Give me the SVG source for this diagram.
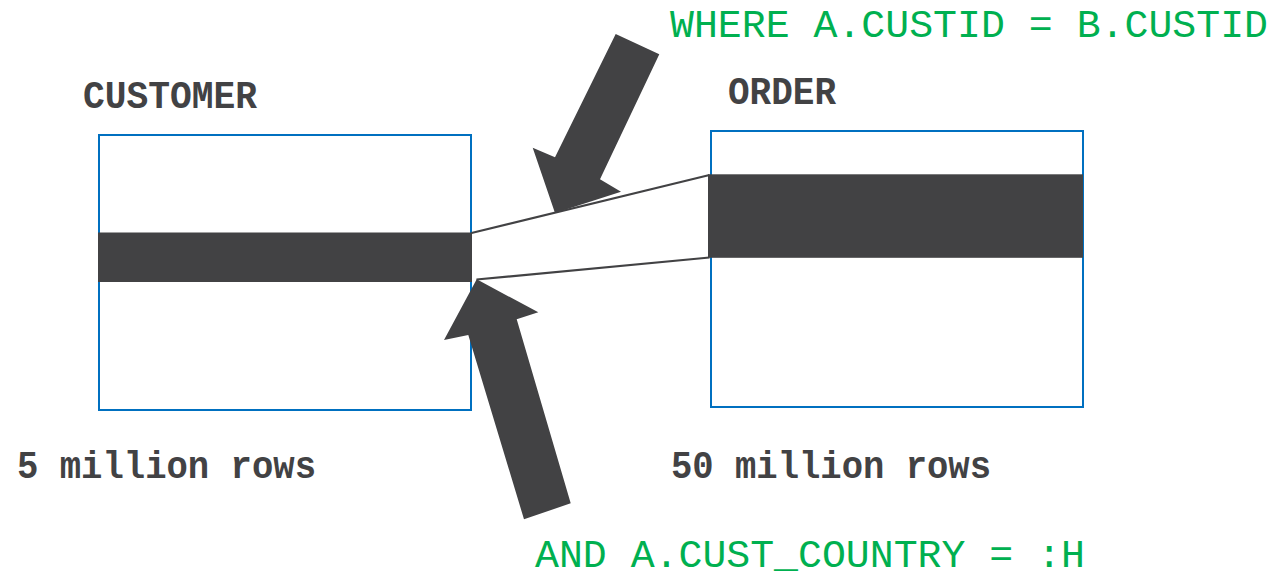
<svg xmlns="http://www.w3.org/2000/svg" width="1276" height="578" viewBox="0 0 1276 578">
<style>
.box{fill:#fff;stroke:#0070C0;stroke-width:2}
.bar{fill:#424244}
.arrow{fill:#424244}
.conn{stroke:#424244;stroke-width:2.2;fill:none}
.lbl{font-family:"Courier New","Liberation Mono",monospace;font-weight:bold;fill:#424244}
.sql{font-family:"Courier New","Liberation Mono",monospace;fill:#00B050}
</style>
<rect width="1276" height="578" fill="#fff"/>
<g id="customer">
<rect class="box" x="99" y="135" width="372" height="275"/>
<rect class="bar" x="98" y="232.5" width="374" height="49.5"/>
<text class="lbl" x="83" y="108" font-size="38" textLength="174" lengthAdjust="spacingAndGlyphs">CUSTOMER</text>
<text class="lbl" x="17" y="478" font-size="38" textLength="299" lengthAdjust="spacingAndGlyphs">5 million rows</text>
</g>
<g id="order">
<rect class="box" x="711" y="131" width="372" height="276"/>
<rect class="bar" x="708" y="174.3" width="375" height="83.5"/>
<text class="lbl" x="728" y="104" font-size="38" textLength="108" lengthAdjust="spacingAndGlyphs">ORDER</text>
<text class="lbl" x="671" y="478" font-size="38" textLength="320" lengthAdjust="spacingAndGlyphs">50 million rows</text>
</g>
<g id="connectors">
<line class="conn" x1="471.5" y1="233" x2="709.5" y2="175"/>
<line class="conn" x1="476.5" y1="279.5" x2="709.5" y2="257.5"/>
</g>
<g id="where-arrow">
<polygon class="arrow" points="615.7,34 659.3,54.3 600,179.3 621,191.7 555,213 532.7,147.7 555,157.3"/>
<text class="sql" x="670" y="37" font-size="38" textLength="598" lengthAdjust="spacingAndGlyphs">WHERE A.CUSTID = B.CUSTID</text>
</g>
<g id="and-arrow">
<polygon class="arrow" points="476.7,279.3 538.3,312.3 516.7,319.3 570.7,503.3 524,519.3 468.3,335 444,340"/>
<text class="sql" x="535" y="567" font-size="38" textLength="550" lengthAdjust="spacingAndGlyphs">AND A.CUST_COUNTRY = :H</text>
</g>
</svg>
